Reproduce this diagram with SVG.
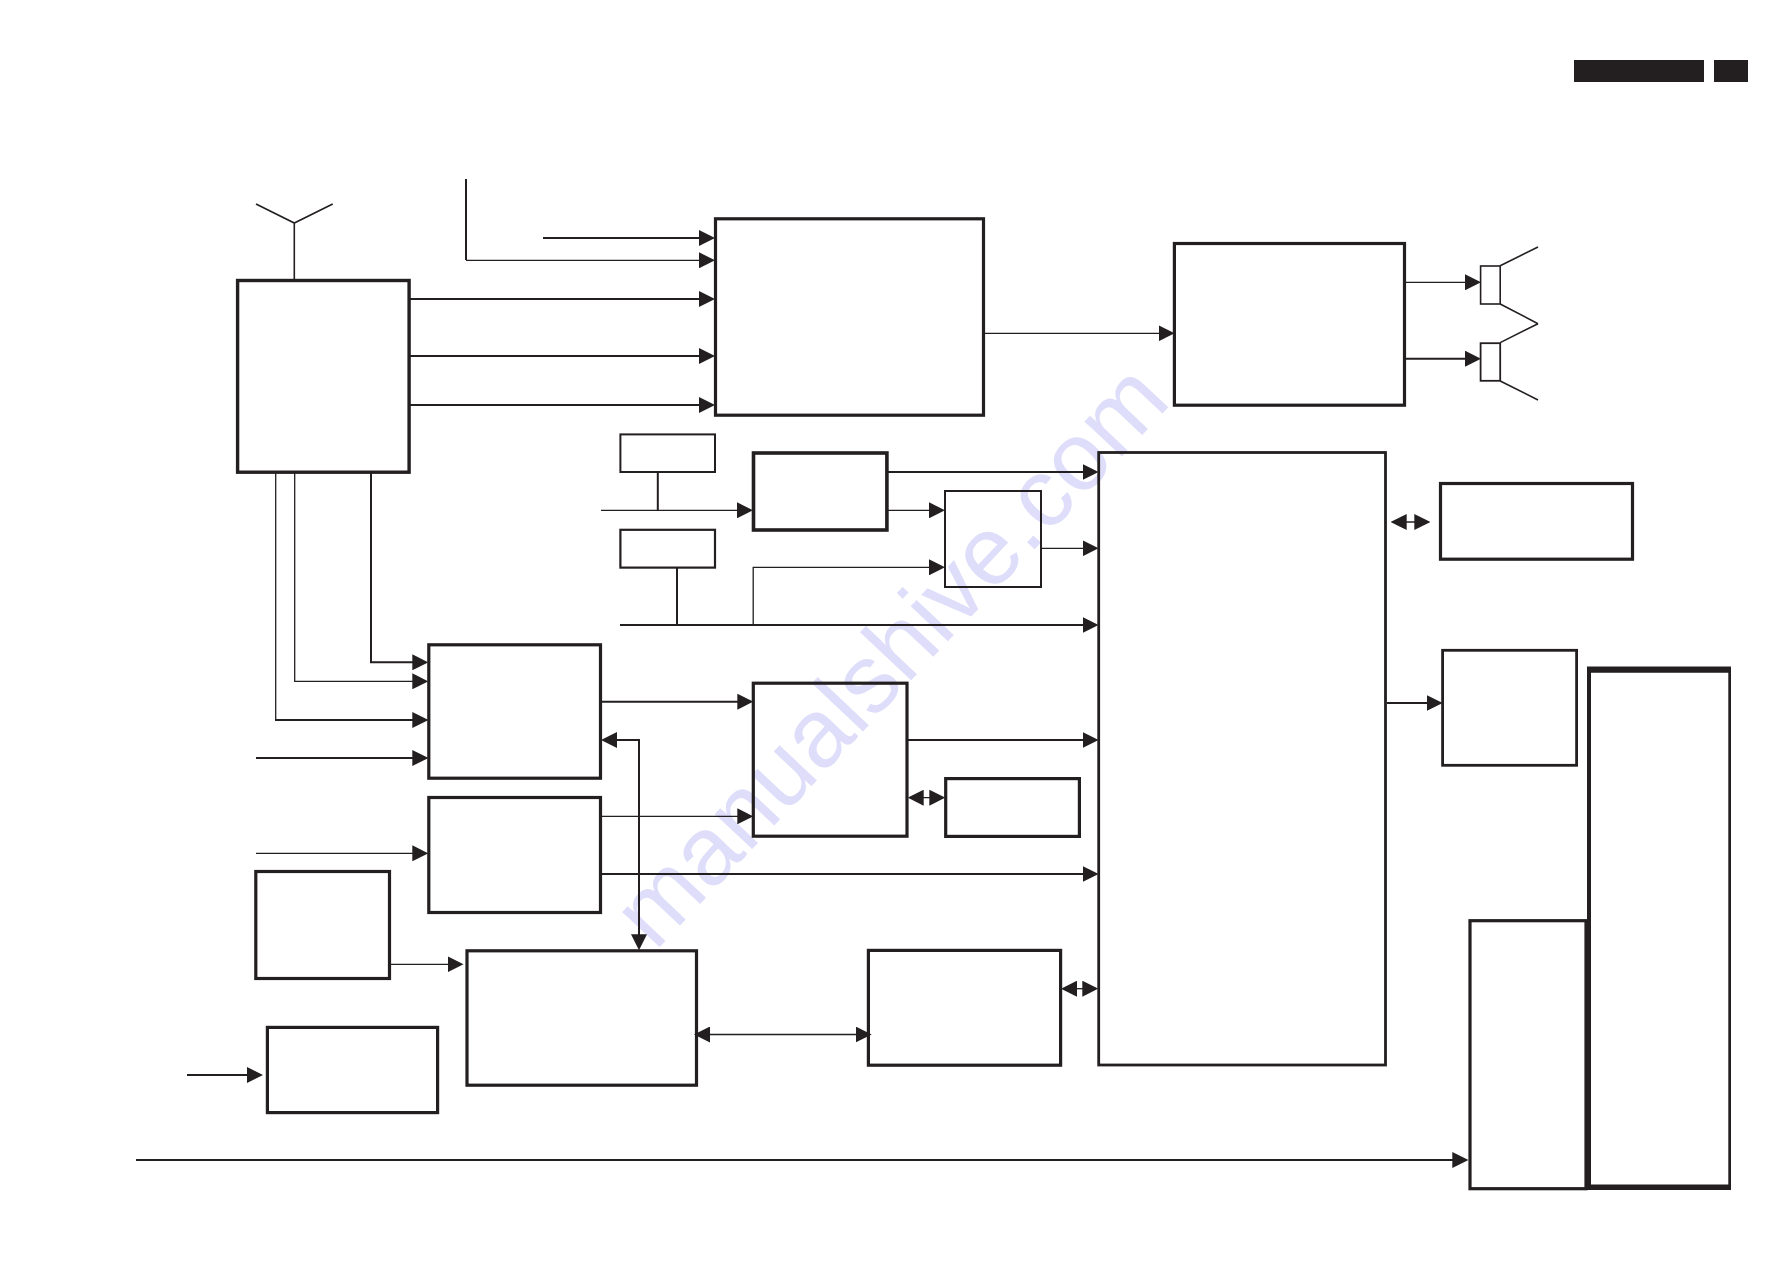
<svg xmlns="http://www.w3.org/2000/svg" width="1787" height="1263" viewBox="0 0 1787 1263">
<style>
.b{fill:none;stroke:#231f20;stroke-width:3.2}
.l{fill:none;stroke:#231f20;stroke-width:2}
.t{fill:none;stroke:#231f20;stroke-width:1.3}
.a{marker-end:url(#arrow)}
.d{marker-start:url(#arrow);marker-end:url(#arrow)}
.wm{font-family:"Liberation Sans",Arial,sans-serif;font-size:97px;fill:#dedefb}
</style>
<defs>
<marker id="arrow" markerUnits="userSpaceOnUse" viewBox="0 0 16 16" markerWidth="16" markerHeight="16" refX="13" refY="8" orient="auto-start-reverse"><path d="M0 0L16 8L0 16Z" fill="#231f20"/></marker>
</defs>
<rect width="1787" height="1263" fill="#fff"/>
<text class="wm" transform="translate(655 952) rotate(-46.7)">manualshive.com</text>
<g id="header">
<rect x="1574" y="60" width="130" height="22" fill="#231f20"/>
<rect x="1714" y="60" width="34" height="22" fill="#231f20"/>
</g>
<g id="antenna"><path class="t" style="stroke-width:1.6" d="M256 204L294.3 223L332.7 204M294.3 223V280"/></g>
<g id="tuner"><rect class="b" style="stroke-width:3.4" x="237.6" y="280.5" width="171.5" height="191.7"/></g>
<g id="box-a"><rect class="b" x="715.5" y="218.8" width="268" height="196.4"/></g>
<g id="box-n"><rect class="b" x="1174.4" y="243.5" width="230.1" height="161.7"/></g>
<g id="speaker-1"><rect class="t" style="stroke-width:1.6" x="1480.6" y="266" width="19.6" height="38"/><path class="t" style="stroke-width:1.6" d="M1500.2 265.7L1538 247M1500.2 304L1538 323.7"/></g>
<g id="speaker-2"><rect class="t" style="stroke-width:1.8" x="1480.6" y="343.2" width="19.6" height="37.6"/><path class="t" style="stroke-width:1.6" d="M1500.2 342.6L1538 323.7M1500.2 381L1538 400"/></g>
<g id="box-main"><rect class="b" style="stroke-width:2.8" x="1098.7" y="452.5" width="286.8" height="612.5"/></g>
<g id="box-m"><rect class="b" x="1440.5" y="483.5" width="192" height="75.7"/></g>
<g id="box-h"><rect class="b" style="stroke-width:2.8" x="1442.6" y="650.3" width="134" height="115"/></g>
<g id="box-2"><rect class="b" style="stroke-width:3.6" x="753.5" y="453" width="133.4" height="77"/></g>
<g id="box-3"><rect class="l" x="945" y="491" width="96" height="96"/></g>
<g id="small-1"><rect class="l" x="620.4" y="434.4" width="94.6" height="37.6"/></g>
<g id="small-2"><rect class="l" style="stroke-width:2.2" x="620.4" y="529.8" width="94.6" height="37.8"/></g>
<g id="box-c"><rect class="b" x="428.8" y="644.8" width="171.7" height="133.4"/></g>
<g id="box-d"><rect class="b" x="428.8" y="797.5" width="171.7" height="115"/></g>
<g id="box-e"><rect class="b" x="255.8" y="871.5" width="133.7" height="107"/></g>
<g id="box-vco"><rect class="b" x="753.3" y="683.2" width="153.7" height="153"/></g>
<g id="box-k"><rect class="b" x="945.7" y="778.6" width="133.7" height="57.8"/></g>
<g id="box-l"><rect class="b" x="868.4" y="950.4" width="192.2" height="114.8"/></g>
<g id="box-f"><rect class="b" x="467" y="950.8" width="229.5" height="134.4"/></g>
<g id="box-g"><rect class="b" x="267.4" y="1027.4" width="170.2" height="85.2"/></g>
<g id="box-i"><rect class="b" x="1470" y="920.7" width="116" height="268"/></g>
<g id="box-j"><path fill="#231f20" fill-rule="evenodd" d="M1587 666.5H1731V1190H1587ZM1591 672.7V1184.4H1728.3V672.7Z"/></g>
<g id="connectors">
<path class="l" d="M466 179V260"/>
<path class="t a" d="M466 260.3H712"/>
<path class="l a" d="M543 238H712"/>
<path class="l a" d="M410 299H712"/>
<path class="l a" d="M410 356H712"/>
<path class="l a" d="M410 405H712"/>
<path class="t a" d="M985 333.3H1171.6"/>
<path class="t a" d="M1406 282.3H1478"/>
<path class="l a" d="M1406 358.7H1478"/>
<path class="l" d="M657.8 473V510"/>
<path class="t a" d="M601 510.3H750"/>
<path class="l a" d="M888 472H1095.6"/>
<path class="t a" d="M888 510.3H942"/>
<path class="t a" d="M1042 548.3H1095.6"/>
<path class="l" d="M677 568V625"/>
<path class="l a" d="M620 625H1095.6"/>
<path class="t a" d="M753.2 625V567.3H942"/>
<path class="l a" d="M371 473V662.3H425.3"/>
<path class="t a" d="M294.7 473V681.3H425.3"/>
<path class="t" d="M275.7 473V720"/>
<path class="l a" d="M275 720H425.3"/>
<path class="l a" d="M256 758H425.3"/>
<path class="t a" d="M256 853.3H425.3"/>
<path class="l a" d="M602 701.7H750.3"/>
<path class="t a" d="M602 816.3H750.3"/>
<path class="l a" d="M602 874H1095.6"/>
<path class="l d" d="M604 740H639V947.3"/>
<path class="l a" d="M908 740H1095.6"/>
<path class="t a" d="M391 964.3H460.5"/>
<path class="l a" d="M187 1075H260"/>
<path class="t d" d="M697 1034.5H868.7"/>
<path class="l a" d="M136 1160H1465.3"/>
<path class="l a" d="M1387 703H1439.7"/>
<path class="t d" d="M910.7 797.7H942.3"/>
<path class="t d" d="M1064 988.7H1095.3"/>
<path class="t d" d="M1393.7 522H1427.3"/>
</g>
</svg>
